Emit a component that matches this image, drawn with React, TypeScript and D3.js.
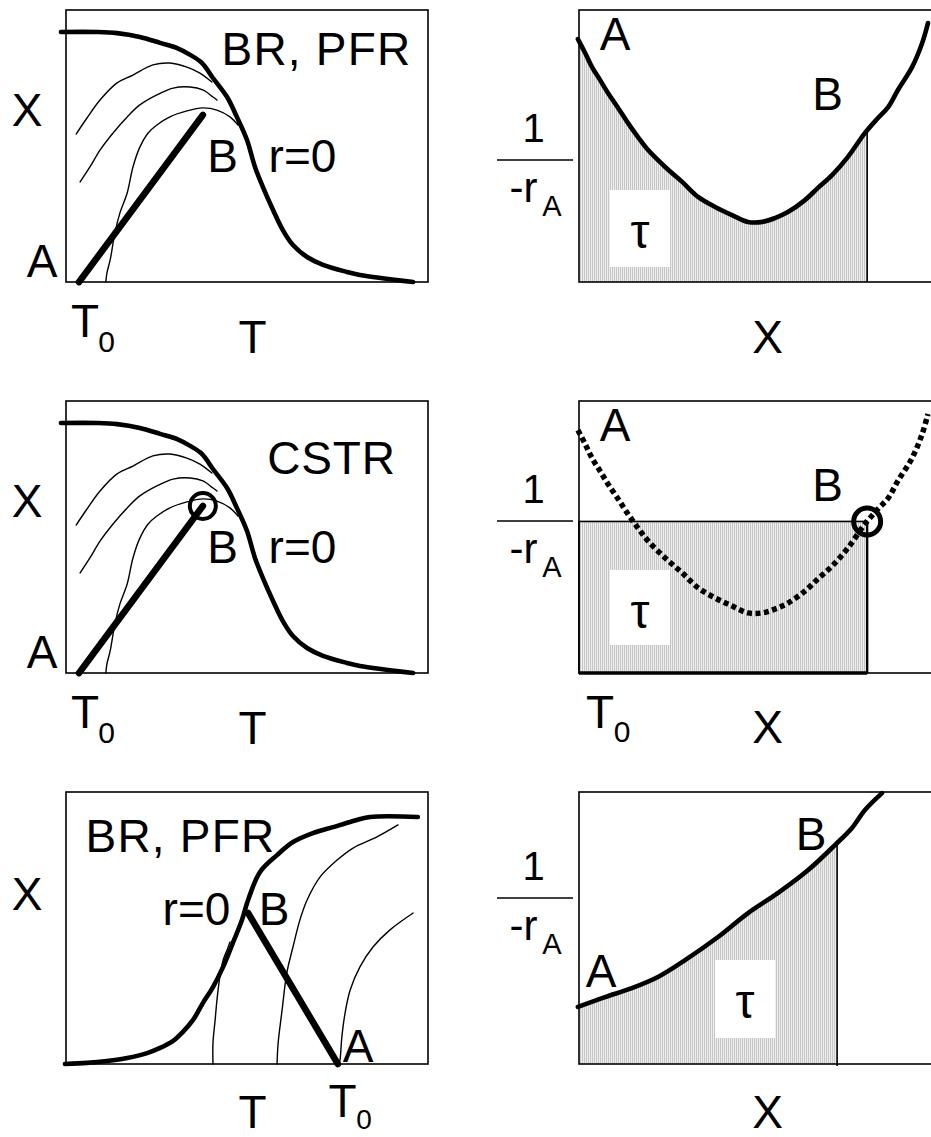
import React from 'react';
import * as d3 from 'd3';

type Pt = [number, number];

// ---- Left column: conversion X vs temperature T (frame units 0–100) ----
// Exothermic reversible reaction: equilibrium line (r = 0), falling with T
const eqCurveExo: Pt[] = [
  [-1.4, 91.9], [8.6, 91.9], [14.1, 91.5], [20.4, 90.1], [26.0, 87.9], [30.7, 86.0],
  [34.3, 83.5], [37.6, 80.5], [40.6, 75.0], [44.5, 68.0], [47.2, 60.7], [50.0, 52.2],
  [52.2, 42.3], [54.4, 34.9], [57.2, 26.5], [59.9, 19.1], [62.7, 13.6], [66.6, 9.2],
  [71.0, 6.3], [77.6, 3.7], [81.2, 2.6], [95.9, 0],
];
// Constant-rate contours
const rateExoHigh: Pt[] = [
  [2.8, 54.4], [5.8, 60.3], [9.4, 66.9], [14.1, 73.2], [18.5, 76.1], [24.0, 79.8],
  [28.7, 80.5], [33.4, 79.0], [37.0, 76.8], [40.3, 73.5],
];
const rateExoMid: Pt[] = [
  [3.9, 36.8], [6.6, 42.3], [9.4, 48.5], [13.0, 54.8], [16.9, 60.7], [20.4, 65.1],
  [25.1, 68.8], [29.6, 71.3], [34.3, 71.7], [37.8, 70.6], [40.6, 68.0], [41.7, 66.9],
];
const rateExoLow: Pt[] = [
  [11.0, 0], [11.3, 3.3], [12.2, 8.1], [13.5, 18.0], [14.9, 25.4], [16.9, 32.7],
  [18.5, 42.3], [20.4, 49.6], [22.7, 54.8], [25.1, 57.7], [28.7, 60.7], [33.4, 62.9],
  [37.8, 64.0], [41.7, 63.2], [45.3, 60.7], [47.5, 57.7],
];
// Adiabatic operating line from feed A (T0) to outlet B
const adiabatExo: Pt[] = [[3.6, 0], [37.8, 61.4]];

// Endothermic reaction: equilibrium line rising with T
const eqCurveEndo: Pt[] = [
  [-0.3, 0], [5.8, 0.4], [11.3, 1.1], [16.9, 2.2], [22.4, 4.0], [26.0, 5.9], [29.6, 8.5],
  [32.3, 11.8], [35.1, 16.2], [37.8, 22.4], [40.6, 28.3], [43.4, 35.7], [46.1, 44.5],
  [48.6, 52.9], [50.3, 60.3], [53.6, 70.6], [58.3, 76.8], [62.7, 81.6], [68.2, 84.9],
  [73.8, 87.1], [78.5, 89.0], [84.0, 90.8], [97.2, 90.8],
];
const rateEndoA: Pt[] = [
  [40.6, 0], [40.6, 7.7], [41.2, 16.2], [41.7, 23.5], [42.5, 32.0], [43.4, 38.2],
  [44.5, 41.9], [45.3, 44.9],
];
const rateEndoB: Pt[] = [
  [58.3, 0], [58.6, 7.7], [59.7, 19.9], [61.0, 33.5], [62.7, 43.0], [64.6, 52.9],
  [66.6, 60.3], [70.2, 68.8], [74.9, 75.0], [79.3, 79.4], [85.9, 83.5], [91.7, 87.9],
];
const rateEndoC: Pt[] = [
  [75.4, 0], [75.7, 1.5], [76.2, 9.9], [77.1, 18.8], [78.5, 27.2], [81.2, 35.7],
  [84.8, 43.0], [89.5, 49.3], [95.9, 55.5],
];
const adiabatEndo: Pt[] = [[75.1, 0], [50.3, 55.5]];

// ---- Right column: Levenspiel plots 1/(-rA) vs X ----
const levenspielExo: Pt[] = [
  [-0.3, 89.3], [1.7, 84.2], [3.6, 79.0], [5.8, 74.3], [8.0, 69.5], [10.8, 64.0],
  [13.5, 58.5], [16.3, 53.3], [19.1, 48.5], [23.8, 42.3], [28.5, 36.8], [32.9, 31.3],
  [37.6, 27.6], [42.3, 24.6], [46.7, 22.1], [50.6, 22.1], [54.1, 23.5], [57.7, 25.7],
  [62.4, 30.1], [66.0, 34.6], [69.9, 39.3], [74.3, 46.0], [79.0, 54.8], [82.6, 60.3],
  [85.4, 64.3], [88.1, 70.6], [92.0, 79.0], [94.8, 87.9], [96.4, 95.2],
];
const levenspielEndo: Pt[] = [
  [-0.3, 21.0], [7.2, 24.6], [14.6, 27.9], [21.8, 32.0], [29.3, 38.2], [38.4, 46.7],
  [46.7, 55.5], [55.0, 62.9], [63.3, 71.3], [70.7, 80.5], [75.4, 86.8], [79.0, 93.4],
  [83.7, 99.6],
];
const outletXExo = 79.6;
const outletXEndo = 71.3;

// ---- Frame geometry ----
const FRAME_W = 362;
const FRAME_H = 272;
const LEFT_X0 = 66;
const RIGHT_X0 = 579;
const ROW_TOPS = [10, 401, 792];

const FONT = "'Liberation Sans', Arial, Helvetica, sans-serif";
const FS = 46;
const THICK = 4.6;
const BOLD = 6.6;
const THIN = 1.4;

const xLeft = d3.scaleLinear().domain([0, 100]).range([LEFT_X0, LEFT_X0 + FRAME_W]);
const xRight = d3.scaleLinear().domain([0, 100]).range([RIGHT_X0, RIGHT_X0 + FRAME_W]);
const yRow = (i: number) =>
  d3.scaleLinear().domain([0, 100]).range([ROW_TOPS[i] + FRAME_H, ROW_TOPS[i]]);

const pathOf = (xs: d3.ScaleLinear<number, number>, ys: d3.ScaleLinear<number, number>, pts: Pt[]) =>
  d3.line<Pt>().x((d) => xs(d[0])).y((d) => ys(d[1])).curve(d3.curveCatmullRom.alpha(0.5))(pts) || '';

const areaOf = (xs: d3.ScaleLinear<number, number>, ys: d3.ScaleLinear<number, number>, pts: Pt[]) =>
  d3.area<Pt>().x((d) => xs(d[0])).y0(ys(0)).y1((d) => ys(d[1])).curve(d3.curveCatmullRom.alpha(0.5))(pts) || '';

// Linear read-off of a curve at a given abscissa
function valueAt(pts: Pt[], x: number): number {
  for (let i = 1; i < pts.length; i++) {
    const [x0, y0] = pts[i - 1];
    const [x1, y1] = pts[i];
    if (x >= x0 && x <= x1) return y0 + ((x - x0) / (x1 - x0)) * (y1 - y0);
  }
  return pts[pts.length - 1][1];
}

const T = (props: { x: number; y: number; size?: number; anchor?: string; ls?: number; children: React.ReactNode }) => (
  <text
    x={props.x}
    y={props.y}
    fontSize={props.size ?? FS}
    textAnchor={(props.anchor as any) ?? 'middle'}
    fontFamily={FONT}
    letterSpacing={props.ls ?? 0}
    fill="#000"
  >
    {props.children}
  </text>
);

// 1 / (-r_A) axis caption
const InvRateLabel = ({ lineY }: { lineY: number }) => (
  <g>
    <T x={533.5} y={lineY - 18} size={40}>1</T>
    <line x1={497} x2={573} y1={lineY} y2={lineY} stroke="#000" strokeWidth={1.6} />
    <T x={523.5} y={lineY + 42} size={42}>-r</T>
    <T x={552} y={lineY + 56} size={29}>A</T>
  </g>
);

const TauBox = ({ x, y, w, h, base }: { x: number; y: number; w: number; h: number; base: number }) => (
  <g>
    <rect x={x} y={y} width={w} height={h} fill="#fff" />
    <T x={x + w / 2} y={base} size={48}>τ</T>
  </g>
);

const Frame = ({ x0, top }: { x0: number; top: number }) => (
  <rect x={x0} y={top} width={FRAME_W} height={FRAME_H} fill="none" stroke="#000" strokeWidth={1.6} />
);

export default function App() {
  const y0 = yRow(0);
  const y1 = yRow(1);
  const y2 = yRow(2);

  const exoLeft = (ys: d3.ScaleLinear<number, number>) => (
    <g fill="none" stroke="#000" strokeLinecap="round" strokeLinejoin="round">
      <path d={pathOf(xLeft, ys, rateExoHigh)} strokeWidth={THIN} />
      <path d={pathOf(xLeft, ys, rateExoMid)} strokeWidth={THIN} />
      <path d={pathOf(xLeft, ys, rateExoLow)} strokeWidth={THIN} />
      <path d={pathOf(xLeft, ys, eqCurveExo)} strokeWidth={THICK} />
      <path d={pathOf(xLeft, ys, adiabatExo)} strokeWidth={BOLD} />
    </g>
  );

  const bExo = adiabatExo[1];
  const bU = valueAt(levenspielExo, outletXExo);
  const bR = valueAt(levenspielEndo, outletXEndo);

  return (
    <svg width={931} height={1137} style={{ position: 'absolute', left: 0, top: 0, background: '#fff' }}>
      <defs>
        <pattern id="hatch" width={2} height={4} patternUnits="userSpaceOnUse">
          <rect width={2} height={4} fill="#eeeeee" />
          <rect width={1} height={4} fill="#c6c6c6" />
        </pattern>
        <clipPath id="clipExo">
          <rect x={xRight(0)} y={0} width={xRight(outletXExo) - xRight(0)} height={400} />
        </clipPath>
        <clipPath id="clipEndo">
          <rect x={xRight(0)} y={700} width={xRight(outletXEndo) - xRight(0)} height={437} />
        </clipPath>
      </defs>
      <rect width={931} height={1137} fill="#fff" />

      {/* Row 1, left: BR / PFR, exothermic */}
      <Frame x0={LEFT_X0} top={ROW_TOPS[0]} />
      {exoLeft(y0)}
      <T x={27} y={126}>X</T>
      <T x={42} y={277}>A</T>
      <T x={85} y={337}>T</T>
      <T x={106.5} y={352} size={30}>0</T>
      <T x={252.5} y={353}>T</T>
      <T x={316.5} y={65} ls={1.2}>BR, PFR</T>
      <T x={222.5} y={172}>B</T>
      <T x={302.5} y={172}>r=0</T>

      {/* Row 1, right: Levenspiel plot for BR / PFR */}
      <path d={areaOf(xRight, y0, levenspielExo)} fill="url(#hatch)" clipPath="url(#clipExo)" />
      <Frame x0={RIGHT_X0} top={ROW_TOPS[0]} />
      <line x1={xRight(outletXExo)} x2={xRight(outletXExo)} y1={y0(0)} y2={y0(bU)} stroke="#000" strokeWidth={1.6} />
      <TauBox x={610} y={190} w={60} h={77} base={248} />
      <path d={pathOf(xRight, y0, levenspielExo)} fill="none" stroke="#000" strokeWidth={THICK} strokeLinecap="round" />
      <InvRateLabel lineY={160} />
      <T x={615} y={50}>A</T>
      <T x={827.5} y={110}>B</T>
      <T x={767.5} y={353}>X</T>

      {/* Row 2, left: CSTR, exothermic */}
      <Frame x0={LEFT_X0} top={ROW_TOPS[1]} />
      {exoLeft(y1)}
      <circle cx={xLeft(bExo[0])} cy={y1(bExo[1])} r={13} fill="none" stroke="#000" strokeWidth={4} />
      <T x={27} y={517}>X</T>
      <T x={42} y={668}>A</T>
      <T x={85} y={728}>T</T>
      <T x={106.5} y={743} size={30}>0</T>
      <T x={252.5} y={744}>T</T>
      <T x={331.5} y={474} ls={0.8}>CSTR</T>
      <T x={222.5} y={563}>B</T>
      <T x={302.5} y={563}>r=0</T>

      {/* Row 2, right: CSTR rectangle */}
      <rect
        x={xRight(0)}
        y={y1(bU)}
        width={xRight(outletXExo) - xRight(0)}
        height={y1(0) - y1(bU)}
        fill="url(#hatch)"
      />
      <Frame x0={RIGHT_X0} top={ROW_TOPS[1]} />
      <rect
        x={xRight(0)}
        y={y1(bU)}
        width={xRight(outletXExo) - xRight(0)}
        height={y1(0) - y1(bU)}
        fill="none"
        stroke="#000"
        strokeWidth={1.6}
      />
      <line x1={xRight(0)} x2={xRight(outletXExo)} y1={y1(0)} y2={y1(0)} stroke="#000" strokeWidth={3.5} />
      <line x1={xRight(outletXExo)} x2={xRight(outletXExo)} y1={y1(0)} y2={y1(bU)} stroke="#000" strokeWidth={2.4} />
      <TauBox x={610} y={570} w={60} h={75} base={628} />
      <path
        d={pathOf(xRight, y1, levenspielExo)}
        fill="none"
        stroke="#000"
        strokeWidth={5.5}
        strokeDasharray="5 3.5"
      />
      <circle cx={xRight(outletXExo)} cy={y1(bU)} r={13.5} fill="none" stroke="#000" strokeWidth={5} />
      <InvRateLabel lineY={521} />
      <T x={615} y={441}>A</T>
      <T x={827.5} y={501}>B</T>
      <T x={600} y={728}>T</T>
      <T x={622} y={742} size={30}>0</T>
      <T x={767.5} y={743}>X</T>

      {/* Row 3, left: BR / PFR, endothermic */}
      <Frame x0={LEFT_X0} top={ROW_TOPS[2]} />
      <g fill="none" stroke="#000" strokeLinecap="round" strokeLinejoin="round">
        <path d={pathOf(xLeft, y2, rateEndoA)} strokeWidth={THIN} />
        <path d={pathOf(xLeft, y2, rateEndoB)} strokeWidth={THIN} />
        <path d={pathOf(xLeft, y2, rateEndoC)} strokeWidth={THIN} />
        <path d={pathOf(xLeft, y2, eqCurveEndo)} strokeWidth={THICK} />
        <path d={pathOf(xLeft, y2, adiabatEndo)} strokeWidth={BOLD} />
      </g>
      <T x={180.5} y={852} ls={1.2}>BR, PFR</T>
      <T x={27} y={910}>X</T>
      <T x={196.5} y={925}>r=0</T>
      <T x={274} y={925}>B</T>
      <T x={358} y={1062}>A</T>
      <T x={252.5} y={1128}>T</T>
      <T x={342.5} y={1117}>T</T>
      <T x={364} y={1129} size={28}>0</T>

      {/* Row 3, right: Levenspiel plot, endothermic */}
      <path d={areaOf(xRight, y2, levenspielEndo)} fill="url(#hatch)" clipPath="url(#clipEndo)" />
      <Frame x0={RIGHT_X0} top={ROW_TOPS[2]} />
      <line x1={xRight(outletXEndo)} x2={xRight(outletXEndo)} y1={y2(0) + 2} y2={y2(bR)} stroke="#000" strokeWidth={1.6} />
      <TauBox x={715} y={960} w={60} h={78} base={1018} />
      <path d={pathOf(xRight, y2, levenspielEndo)} fill="none" stroke="#000" strokeWidth={THICK} strokeLinecap="round" />
      <InvRateLabel lineY={898} />
      <T x={601} y={987}>A</T>
      <T x={811} y={850}>B</T>
      <T x={767.5} y={1128}>X</T>
    </svg>
  );
}
